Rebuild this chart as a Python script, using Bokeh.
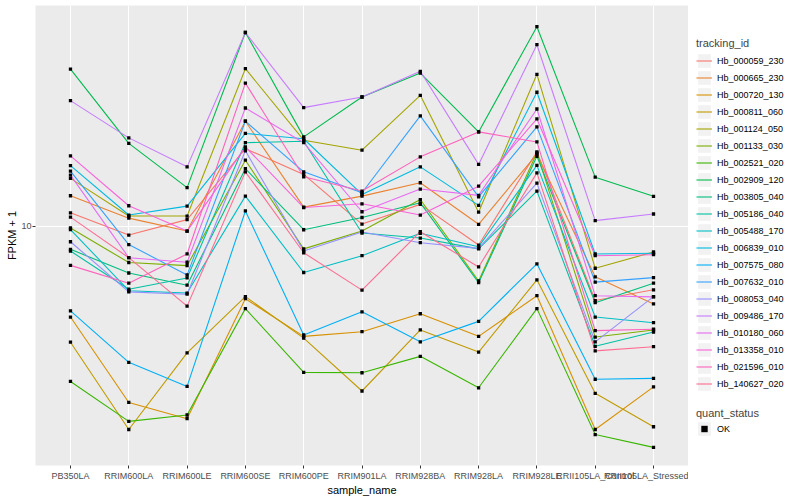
import math
from bokeh.plotting import figure
from bokeh.layouts import row
from bokeh.models import (FactorRange, Range1d, FixedTicker, Legend, LegendItem,
                          ColumnDataSource, PrintfTickFormatter)
from bokeh.embed import file_html
from bokeh.resources import INLINE

samples = ["PB350LA", "RRIM600LA", "RRIM600LE", "RRIM600SE", "RRIM600PE", "RRIM901LA",
           "RRIM928BA", "RRIM928LA", "RRIM928LE", "RRII105LA_Control", "RRII105LA_Stressed"]

tracking_ids = ["Hb_000059_230", "Hb_000665_230", "Hb_000720_130", "Hb_000811_060",
                "Hb_001124_050", "Hb_001133_030", "Hb_002521_020", "Hb_002909_120",
                "Hb_003805_040", "Hb_005186_040", "Hb_005488_170", "Hb_006839_010",
                "Hb_007575_080", "Hb_007632_010", "Hb_008053_040", "Hb_009486_170",
                "Hb_010180_060", "Hb_013358_010", "Hb_021596_010", "Hb_140627_020"]

colors = ["#F8766D", "#EA8331", "#D89000", "#C09B00", "#A3A500", "#7CAE00", "#39B600",
          "#00BB4E", "#00BF7D", "#00C1A3", "#00BFC4", "#00BAE0", "#00B0F6", "#35A2FF",
          "#9590FF", "#C77CFF", "#E76BF3", "#FA62DB", "#FF62BC", "#FF6C91"]

# FPKM + 1 per sample (order of `samples`)
hb_000059_230 = [10.63, 9.59, 10.30, 14.29, 12.69, 10.09, 11.05, 9.16, 14.08, 7.09, 7.45]
hb_000665_230 = [11.50, 10.37, 9.77, 16.22, 10.91, 11.48, 12.21, 10.08, 13.93, 7.91, 6.98]
hb_000720_130 = [6.57, 4.43, 4.11, 7.15, 6.01, 6.14, 6.67, 6.01, 7.25, 3.91, 4.76]
hb_000811_060 = [5.85, 3.91, 5.57, 7.22, 5.96, 4.67, 6.19, 5.59, 7.80, 4.62, 3.96]
hb_001124_050 = [12.46, 10.47, 10.47, 20.67, 14.86, 14.19, 18.28, 10.66, 20.14, 8.23, 8.87]
hb_001133_030 = [9.91, 8.45, 8.33, 13.55, 9.00, 9.77, 11.30, 7.76, 14.02, 5.99, 6.19]
hb_002521_020 = [4.88, 4.06, 4.18, 6.83, 5.09, 5.08, 5.48, 4.74, 6.83, 3.82, 3.60]
hb_002909_120 = [20.63, 14.64, 11.94, 24.43, 15.09, 18.14, 20.26, 15.44, 25.09, 12.53, 11.47]
hb_003805_040 = [8.98, 8.05, 7.61, 13.03, 9.83, 10.40, 11.13, 7.70, 13.80, 7.02, 7.68]
hb_005186_040 = [8.91, 7.47, 7.87, 14.69, 14.79, 9.68, 9.46, 9.00, 11.75, 5.74, 6.13]
hb_005488_170 = [9.84, 7.42, 7.34, 11.48, 8.07, 8.72, 9.67, 9.09, 13.23, 6.57, 6.40]
hb_006839_010 = [13.21, 10.52, 10.96, 15.33, 14.96, 11.57, 13.14, 11.00, 18.54, 8.79, 8.82]
hb_007575_080 = [6.76, 5.33, 4.77, 10.72, 6.05, 6.73, 5.86, 6.44, 8.40, 4.93, 4.95]
hb_007632_010 = [12.88, 9.18, 7.98, 16.22, 12.84, 11.66, 16.62, 11.44, 15.80, 7.72, 7.88]
hb_008053_040 = [9.30, 7.38, 7.30, 14.15, 8.91, 9.73, 9.26, 9.02, 12.19, 5.86, 7.22]
hb_009486_170 = [17.84, 15.02, 13.14, 24.43, 17.27, 18.14, 20.42, 13.29, 23.09, 10.25, 10.57]
hb_010180_060 = [12.65, 8.64, 8.46, 17.24, 14.69, 10.68, 11.86, 11.52, 17.16, 7.25, 7.21]
hb_013358_010 = [13.82, 10.98, 9.77, 14.41, 10.89, 11.08, 10.52, 12.02, 16.39, 8.72, 8.76]
hb_021596_010 = [8.34, 7.68, 8.79, 19.34, 12.55, 11.75, 13.76, 15.44, 14.74, 6.17, 6.21]
hb_140627_020 = [10.42, 8.64, 6.91, 12.84, 8.84, 7.44, 9.74, 8.28, 12.78, 5.62, 5.73]

series = [hb_000059_230, hb_000665_230, hb_000720_130, hb_000811_060, hb_001124_050,
          hb_001133_030, hb_002521_020, hb_002909_120, hb_003805_040, hb_005186_040,
          hb_005488_170, hb_006839_010, hb_007575_080, hb_007632_010, hb_008053_040,
          hb_009486_170, hb_010180_060, hb_013358_010, hb_021596_010, hb_140627_020]

quant_status = ["OK"]

FONT = "Liberation Sans"
H = 498
TOP, BOTTOM = 5, 466          # panel edges on the page
y_start = 10 ** (1.452 - 0.002 * BOTTOM)
y_end = 10 ** (1.452 - 0.002 * TOP)

p = figure(width=688, height=H,
           x_range=FactorRange(factors=samples, range_padding=0.1, range_padding_units="absolute"),
           y_range=Range1d(y_start, y_end), y_axis_type="log",
           output_backend="svg", toolbar_location=None,
           min_border_left=35, min_border_right=0, min_border_top=TOP, min_border_bottom=H - BOTTOM,
           background_fill_color="#EBEBEB", border_fill_color="white", outline_line_color=None)

p.xgrid.grid_line_color = "white"
p.xgrid.grid_line_width = 1
p.ygrid.grid_line_color = "white"
p.ygrid.grid_line_width = 1
p.yaxis.ticker = FixedTicker(ticks=[10])
p.ygrid.ticker = FixedTicker(ticks=[10])
p.yaxis.formatter = PrintfTickFormatter(format="%d")

for ax in (p.xaxis[0], p.yaxis[0]):
    ax.axis_line_color = None
    ax.major_tick_line_color = "#333333"
    ax.major_tick_out = 3
    ax.major_tick_in = 0
    ax.minor_tick_line_color = None
    ax.major_label_text_color = "#4D4D4D"
    ax.major_label_text_font = FONT
    ax.major_label_text_font_size = "9px"
    ax.axis_label_text_font = FONT
    ax.axis_label_text_font_size = "11px"
    ax.axis_label_text_font_style = "normal"
    ax.axis_label_text_color = "black"
    ax.axis_label_standoff = 0

p.yaxis.major_label_standoff = 1
p.xaxis.major_label_standoff = 2
p.yaxis.axis_label = "FPKM + 1"
p.xaxis.axis_label = "sample_name"

for vals, col in zip(series, colors):
    p.line(x=samples, y=vals, line_color=col, line_width=1.1)

pts = ColumnDataSource(dict(x=[s for _ in series for s in samples],
                            y=[v for vals in series for v in vals]))
p.scatter(x="x", y="y", source=pts, marker="square", size=3.3,
          fill_color="black", line_color=None)

# ---- legend panel ----
lg = figure(width=110, height=H, x_range=Range1d(0, 1), y_range=Range1d(0, 1),
            x_axis_type=None, y_axis_type=None, output_backend="svg", toolbar_location=None,
            min_border=0, outline_line_color=None, background_fill_color="white",
            border_fill_color="white")
lg.grid.visible = False

key_r = lg.quad(left=[2], right=[3], top=[3], bottom=[2], fill_color="#F2F2F2", line_color=None)
leg_lines = [lg.line(x=[2, 3], y=[2, 3], line_color=c, line_width=1.1) for c in colors]
ok_r = lg.scatter(x=[2], y=[2], marker="square", fill_color="black", line_color=None)

common = dict(padding=0, margin=0, spacing=0, glyph_width=16, glyph_height=17, label_height=17,
              label_standoff=5, label_text_font=FONT, label_text_font_size="9px",
              label_text_color="black",
              title_text_font=FONT, title_text_font_size="11px", title_text_font_style="normal",
              border_line_color=None, background_fill_alpha=0)

items = [LegendItem(label=tid, renderers=[key_r, r]) for tid, r in zip(tracking_ids, leg_lines)]
leg1 = Legend(items=items, title="tracking_id", location=(8, 73), title_standoff=3, **common)
lg.add_layout(leg1)

leg2 = Legend(items=[LegendItem(label=quant_status[0], renderers=[key_r, ok_r])],
              title="quant_status", location=(8, 28), title_standoff=1, **common)
lg.add_layout(leg2)

layout = row(p, lg)
open("out.html", "w").write(file_html(layout, INLINE))
